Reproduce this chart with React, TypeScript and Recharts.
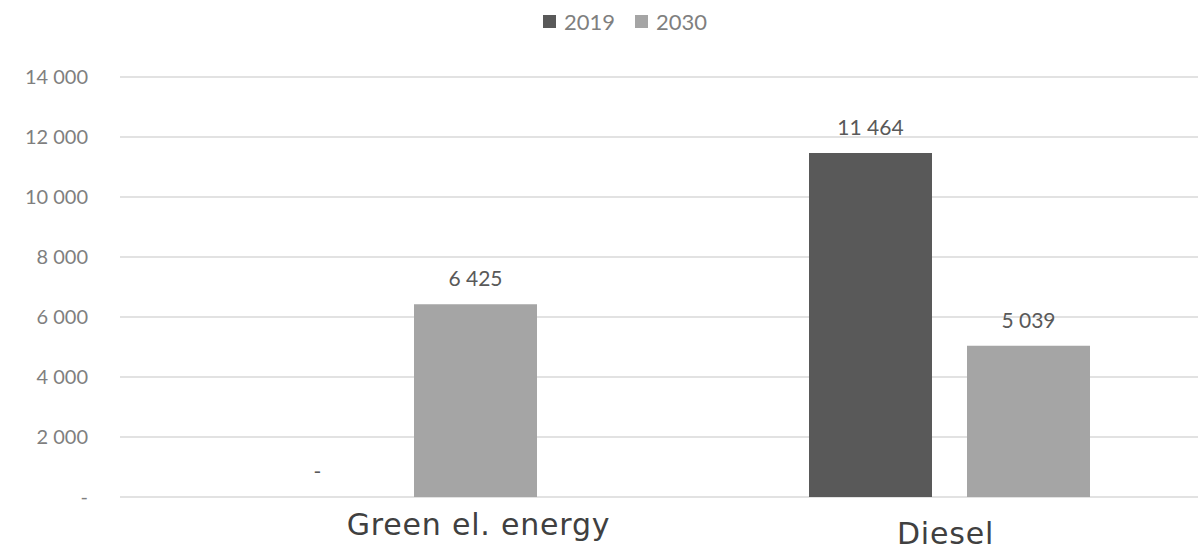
import React from "react";
import { BarChart, Bar, XAxis, YAxis, CartesianGrid, Legend, LabelList } from "recharts";

const categories = ["Green el. energy", "Diesel"];
const values2019 = [0, 11464];
const values2030 = [6425, 5039];
const yTicks = [0, 2000, 4000, 6000, 8000, 10000, 12000, 14000];
const seriesNames = ["2019", "2030"];

const COLOR_2019 = "#595959";
const COLOR_2030 = "#a5a5a5";
const FONT = "Lato, 'DejaVu Sans', sans-serif";
const CAT_FONT = "'DejaVu Sans', sans-serif";

const data = categories.map((name, i) => ({
  name,
  v2019: values2019[i],
  v2030: values2030[i],
}));

function fmt(v: number): string {
  if (v === 0) return "-";
  return String(v).replace(/\B(?=(\d{3})+(?!\d))/g, " ");
}

// recharts drops zero-height bars (and their labels), so give them a hairline
const keepZero = (v: any) => (Number(v) === 0 ? 0.01 : 0);

// the category labels in the original sit a little off centre
const tickShift = [
  { dx: 82, dy: 0 },
  { dx: -4, dy: 9 },
];

function CategoryTick(props: any) {
  const { x, y, payload, index } = props;
  const s = tickShift[index] || { dx: 0, dy: 0 };
  return (
    <text
      x={x + s.dx}
      y={y + s.dy}
      dy={26}
      textAnchor="middle"
      fill="#404040"
      fontSize={30}
      fontFamily={CAT_FONT}
      letterSpacing={0.8}
    >
      {payload.value}
    </text>
  );
}

function BarValueLabel(props: any) {
  const { x, y, width, value } = props;
  if (value === undefined || value === null) return null;
  return (
    <text
      x={Number(x) + Number(width) / 2}
      y={Number(y) - 18}
      textAnchor="middle"
      fill="#595959"
      fontSize={21}
      fontFamily={FONT}
    >
      {fmt(Number(value))}
    </text>
  );
}

function LegendContent(props: any) {
  const items = props.payload || [];
  return (
    <div style={{ display: "flex", justifyContent: "center", alignItems: "center", fontFamily: FONT }}>
      {items.map((it: any, i: number) => (
        <div key={i} style={{ display: "flex", alignItems: "center", marginRight: i === 0 ? 20 : 0 }}>
          <span style={{ width: 13, height: 13, background: it.color, display: "inline-block", marginRight: 8 }} />
          <span style={{ fontSize: 22, color: "#7f7f7f" }}>{it.value}</span>
        </div>
      ))}
    </div>
  );
}

export default function App() {
  return (
    <div style={{ position: "absolute", left: 0, top: 0, width: 1198, height: 550, overflow: "hidden", background: "#fff" }}>
      <BarChart
        width={1250}
        height={550}
        data={data}
        margin={{ top: 77, right: 24, bottom: 0, left: 0 }}
        barSize={123}
        barGap={35}
      >
        <CartesianGrid vertical={false} stroke="#d9d9d9" strokeWidth={1.5} />
        <XAxis
          dataKey="name"
          axisLine={false}
          tickLine={false}
          tickSize={0}
          tickMargin={12}
          height={53}
          interval={0}
          tick={<CategoryTick />}
        />
        <YAxis
          width={120}
          domain={[0, 14000]}
          ticks={yTicks}
          axisLine={false}
          tickLine={false}
          tickSize={0}
          tickMargin={32}
          tickFormatter={fmt}
          tick={{ fontSize: 20, fill: "#7f7f7f", fontFamily: FONT }}
        />
        <Legend
          verticalAlign="middle"
          align="center"
          layout="horizontal"
          wrapperStyle={{ top: 8, left: 0, width: 1250 }}
          content={LegendContent}
        />
        <Bar dataKey="v2019" name={seriesNames[0]} fill={COLOR_2019} minPointSize={keepZero} isAnimationActive={false}>
          <LabelList dataKey="v2019" content={BarValueLabel} />
        </Bar>
        <Bar dataKey="v2030" name={seriesNames[1]} fill={COLOR_2030} minPointSize={keepZero} isAnimationActive={false}>
          <LabelList dataKey="v2030" content={BarValueLabel} />
        </Bar>
      </BarChart>
    </div>
  );
}
